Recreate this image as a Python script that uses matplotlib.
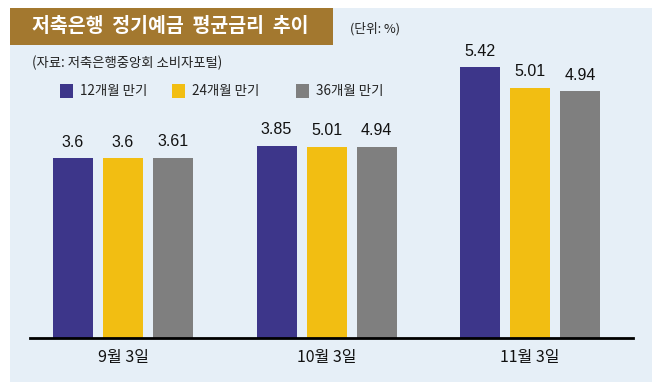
import matplotlib.pyplot as plt
import numpy as np
from matplotlib.patches import Rectangle

plt.rcParams['font.family'] = ['Noto Sans CJK KR', 'DejaVu Sans']

# 데이터 (막대 높이는 그림에서 읽은 값, 숫자 라벨은 그림에 적힌 그대로)
dates = ['9월 3일', '10월 3일', '11월 3일']
series_names = ['12개월 만기', '24개월 만기', '36개월 만기']
rate_12m = [3.6, 3.85, 5.42]
rate_24m = [3.6, 3.83, 5.01]
rate_36m = [3.61, 3.83, 4.94]
labels_12m = ['3.6', '3.85', '5.42']
labels_24m = ['3.6', '5.01', '5.01']
labels_36m = ['3.61', '4.94', '4.94']

colors = ['#3D368A', '#F2BE12', '#7F7F7F']
bg = '#E6EFF7'
W, H = 659, 389

fig = plt.figure(figsize=(W / 100, H / 100), dpi=100)
fig.patch.set_facecolor('white')

# 배경 패널과 제목 띠 (픽셀 좌표 → figure 비율)
def px(x0, y0, x1, y1):
    return (x0 / W, 1 - y1 / H, (x1 - x0) / W, (y1 - y0) / H)

x, y, w, h = px(10, 8, 652, 382)
fig.patches.append(Rectangle((x, y), w, h, transform=fig.transFigure,
                             facecolor=bg, edgecolor='none', zorder=0))
x, y, w, h = px(10, 8, 333, 45)
fig.patches.append(Rectangle((x, y), w, h, transform=fig.transFigure,
                             facecolor='#A3782F', edgecolor='none', zorder=1))

fig.text(32 / W, 1 - 27 / H, '저축은행  정기예금  평균금리  추이', color='white',
         fontsize=14, fontweight='bold', va='center', ha='left')
fig.text(350 / W, 1 - 29 / H, '(단위: %)', color='#222222', fontsize=9.2,
         va='center', ha='left')
fig.text(32 / W, 1 - 63 / H, '(자료: 저축은행중앙회 소비자포털)', color='#222222',
         fontsize=9.6, va='center', ha='left')

# 범례
leg_x = [60, 172, 296]
for lx, name, c in zip(leg_x, series_names, colors):
    x, y, w, h = px(lx, 84, lx + 13, 98)
    fig.patches.append(Rectangle((x, y), w, h, transform=fig.transFigure,
                                 facecolor=c, edgecolor='none', zorder=2))
    fig.text((lx + 20) / W, 1 - 91 / H, name, color='#222222', fontsize=9.7,
             va='center', ha='left')

# 막대 그래프
ax = fig.add_axes([30 / W, 1 - 338 / H, (633 - 30) / W, 300 / H])
ax.set_zorder(5)
ax.set_facecolor('none')
scale = 203.5
pos = np.arange(len(dates))
bw = 40 / scale
off = 50 / scale
series = [rate_12m, rate_24m, rate_36m]
labels = [labels_12m, labels_24m, labels_36m]
for i, (vals, labs, c) in enumerate(zip(series, labels, colors)):
    xs = pos + (i - 1) * off
    ax.bar(xs, vals, width=bw, color=c, zorder=2)
    for xv, v, lab in zip(xs, vals, labs):
        ax.text(xv, v + 0.17, lab, ha='center', va='bottom', fontsize=11.5,
                color='#111111', family=['Liberation Sans', 'DejaVu Sans'])

ax.set_xlim((30 - 123) / scale, (633 - 123) / scale)
ax.set_ylim(0, 6)
for s in ['top', 'right', 'left']:
    ax.spines[s].set_visible(False)
ax.spines['bottom'].set_linewidth(2)
ax.spines['bottom'].set_color('black')
ax.set_yticks([])
ax.set_xticks(pos)
ax.set_xticklabels(dates, fontsize=11.5, color='#111111')
ax.tick_params(axis='x', length=0, pad=8)

fig.savefig('out.png', dpi=100, facecolor='white')
